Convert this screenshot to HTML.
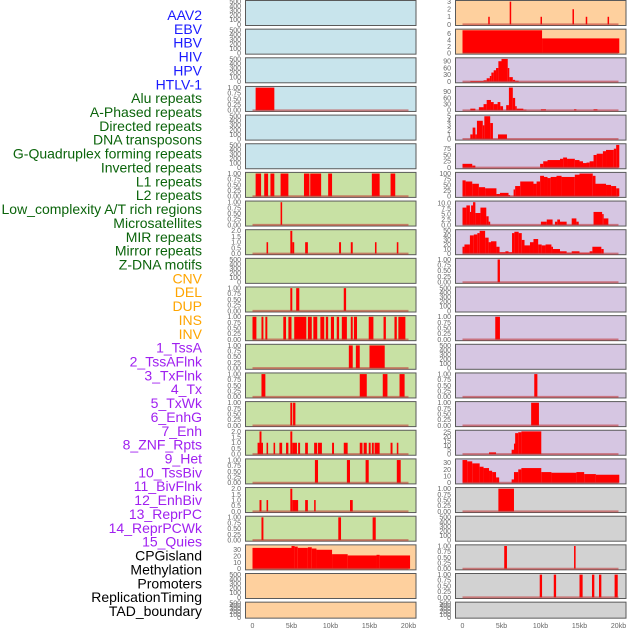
<!DOCTYPE html>
<html><head><meta charset="utf-8"><style>
html,body{margin:0;padding:0;background:#fff;}
svg{display:block;font-family:"Liberation Sans",sans-serif;}
</style></head><body>
<svg id="chart" width="630" height="630" viewBox="0 0 630 630"></svg>
<script>
const featureLabels = ["AAV2","EBV","HBV","HIV","HPV","HTLV-1","Alu repeats","A-Phased repeats","Directed repeats","DNA transposons","G-Quadruplex forming repeats","Inverted repeats","L1 repeats","L2 repeats","Low_complexity A/T rich regions","Microsatellites","MIR repeats","Mirror repeats","Z-DNA motifs","CNV","DEL","DUP","INS","INV","1_TssA","2_TssAFlnk","3_TxFlnk","4_Tx","5_TxWk","6_EnhG","7_Enh","8_ZNF_Rpts","9_Het","10_TssBiv","11_BivFlnk","12_EnhBiv","13_ReprPC","14_ReprPCWk","15_Quies","CPGisland","Methylation","Promoters","ReplicationTiming","TAD_boundary"];
const labelGroups = ["virus","virus","virus","virus","virus","virus","repeat","repeat","repeat","repeat","repeat","repeat","repeat","repeat","repeat","repeat","repeat","repeat","repeat","sv","sv","sv","sv","sv","chrom","chrom","chrom","chrom","chrom","chrom","chrom","chrom","chrom","chrom","chrom","chrom","chrom","chrom","chrom","other","other","other","other","other"];
const groupColors = {virus:"#1a1aff",repeat:"#0b640b",sv:"#ffa500",chrom:"#a020f0",other:"#000000"};
const xTicks = [0,5,10,15,20];
const xTickLabels = ["0","5kb","10kb","15kb","20kb"];

const leftBg = ["b","b","b","b","b","b","g","g","g","g","g","g","g","g","g","g","g","g","g","o","o","o"];
const rightBg = ["o","o","p","p","p","p","p","p","p","p","p","p","p","p","p","p","p","y","y","y","y","y"];

const E = [0,100,200,300,400,500];
const U = [0,0.25,0.5,0.75,1];
const T2 = [0,0.5,1,1.5,2];
const leftTicks = [E,E,E,U,E,E,U,U,T2,E,U,U,U,U,U,T2,U,T2,U,[0,10,20,30],E,E];
const rightTicks = [[0,1,2,3],[0,2,4,6],[0,30,60,90],[0,30,60,90],[0,1,2,3,4,5],[0,25,50,75],[0,25,50,75,100],[0,2.5,5,7.5,10],[0,10,20,30,40,50],U,E,U,E,U,U,[0,5,10,15,20,25],[0,10,20,30],U,E,U,U,E];

// segments: [startKb, endKb, value]
const leftSeries = [
 [],[],[],
 [[0.4,2.8,1]],
 [],[],
 [[0.4,1.1,1],[1.5,2.0,1],[2.3,2.8,1],[3.6,4.6,1],[6.6,7.3,1],[7.4,8.8,1],[9.7,10.2,1],[15.3,16.3,1],[17.7,18.3,1]],
 [[3.6,3.8,1]],
 [[1.8,2.0,1],[4.85,5.1,2],[5.1,5.35,1],[6.75,7.1,1],[11.1,11.35,1],[12.6,12.85,1],[15.7,15.9,1],[18.5,18.7,1]],
 [],
 [[4.85,5.1,1],[5.6,6.0,1],[11.7,12.0,1]],
 [[0,0.5,1],[1.15,1.4,1],[1.65,1.9,1],[3.95,4.3,1],[4.6,5.0,1],[5.35,6.9,1],[7.1,7.6,1],[7.8,8.3,1],[8.7,9.2,1],[9.4,9.7,1],[10.05,10.45,1],[10.8,11.1,1],[11.45,12.1,1],[12.6,12.85,1],[13.0,13.4,1],[14.9,15.5,1],[16.8,17.1,1],[18.2,18.5,1],[18.7,19.6,1]],
 [[12.35,12.85,1],[13.25,13.75,1],[15.0,16.95,1]],
 [[1.15,1.65,1],[13.75,14.65,1],[16.7,17.3,1],[18.85,19.5,1]],
 [[4.85,5.1,1],[5.2,5.5,1]],
 [[0.65,0.9,1],[0.9,1.15,2],[1.15,1.3,1],[1.8,2.0,1],[2.7,2.9,1],[3.45,3.8,1],[4.3,4.6,1],[4.85,5.1,2],[5.1,5.7,1],[5.85,6.1,1],[6.75,7.1,1],[7.9,8.3,1],[8.4,8.9,1],[10.2,10.45,1],[11.7,12.2,1],[13.75,14.1,1],[14.25,14.65,1],[14.9,15.15,1],[15.3,15.55,1],[15.65,16.3,1],[17.7,17.95,1],[18.5,18.7,1]],
 [[8.0,8.4,1],[12.1,12.5,1],[14.5,14.9,1],[18.5,19.0,1]],
 [[0.9,1.15,1],[1.8,2.0,1],[4.85,5.1,2],[5.1,5.85,1],[6.75,7.1,1],[7.9,8.1,1],[12.5,12.85,1]],
 [[1.15,1.4,1],[11.0,11.35,1],[15.4,15.8,1]],
 [[0,5.0,33],[5.0,5.4,36],[5.4,5.8,35],[5.8,7.1,33],[7.1,7.6,34],[7.6,8.2,32],[8.2,10.2,30],[10.2,12.2,23],[12.2,15.9,21],[15.9,16.3,22],[16.3,20.2,21]],
 [],[]
];
const rightSeries = [
 [[3.3,3.45,1],[6.05,6.2,3],[10.0,10.15,1],[14.1,14.25,2],[15.8,15.95,1],[18.6,18.75,1]],
 [[0,10.2,7],[10.2,20.1,4.5]],
 [[1.0,2.7,3],[2.7,3.1,6],[3.1,3.5,15],[3.5,3.7,25],[3.7,4.0,40],[4.0,4.3,50],[4.3,4.6,60],[4.6,5.0,90],[5.0,5.8,100],[5.8,6.0,60],[6.0,6.45,20],[6.45,6.75,8],[6.75,7.2,4]],
 [[1.0,1.65,8],[2.1,2.7,15],[2.7,3.1,30],[3.1,3.65,50],[3.65,4.0,40],[4.0,4.5,30],[4.5,4.85,40],[4.85,5.2,20],[5.6,5.95,25],[5.95,6.45,110],[6.45,6.75,60],[6.75,6.95,20],[6.95,7.8,8],[7.8,8.2,3],[10.05,10.7,5],[14.3,14.6,5],[16.8,17.3,5]],
 [[1.0,1.3,1],[1.3,1.65,2.5],[1.65,1.85,1],[1.85,2.6,4],[2.6,2.8,3],[2.8,3.55,5],[3.55,3.9,3.5],[4.55,5.7,1]],
 [[0,1.25,15],[1.25,1.65,8],[9.95,10.35,15],[10.35,10.9,25],[10.9,12.5,30],[12.5,12.9,35],[12.9,13.4,40],[13.4,14.4,35],[14.4,15.0,30],[15.0,15.45,25],[15.45,15.9,18],[15.9,16.3,20],[16.3,16.8,25],[16.8,17.2,50],[17.2,18.0,55],[18.0,18.4,65],[18.4,19.4,70],[19.4,19.7,75],[19.7,20.1,90]],
 [[0,0.4,70],[0.4,1.25,65],[1.25,2.1,55],[2.1,2.9,40],[2.9,4.35,35],[4.35,4.8,10],[4.8,5.9,15],[5.9,6.1,5],[6.55,6.75,30],[6.75,7.4,45],[7.4,9.1,65],[9.1,9.5,55],[9.5,9.95,65],[9.95,10.45,90],[10.45,10.9,85],[10.9,11.3,80],[11.3,12.05,85],[12.05,12.7,90],[12.7,14.4,85],[14.4,15.0,95],[15.0,16.7,100],[16.7,17.05,90],[17.05,18.4,55],[18.4,19.05,50],[19.05,19.7,45],[19.7,20.1,35]],
 [[0,0.5,8],[0.5,0.95,9],[0.95,1.1,6],[1.1,1.35,9],[1.35,1.65,10.5],[1.65,2.3,5.5],[2.3,3.05,8],[3.05,3.35,4],[3.35,3.55,1.5],[10.05,10.8,1.5],[10.8,11.55,2.5],[11.85,12.15,1.5],[12.15,12.5,2.5],[12.5,13.35,1.5],[14.0,14.6,3],[14.6,14.9,1.5],[16.8,17.9,6],[17.9,18.1,5],[18.1,18.7,3]],
 [[0,0.25,15],[0.25,0.95,20],[0.95,1.45,40],[1.45,1.9,42],[1.9,2.2,45],[2.2,2.9,50],[2.9,3.35,35],[3.35,3.65,25],[3.65,4.35,27],[4.35,4.75,15],[4.75,5.5,3],[5.5,5.9,5],[5.9,6.35,3],[6.35,6.65,45],[6.65,7.2,48],[7.2,7.6,45],[7.6,7.95,30],[7.95,8.65,18],[8.65,9.1,25],[9.1,9.7,32],[9.7,10.15,20],[10.15,10.65,18],[10.65,11.4,20],[11.4,11.6,15],[11.6,12.5,10],[12.5,13.35,5],[13.35,14.0,2],[14.0,15.0,5],[15.0,16.3,2],[16.3,16.65,5],[16.65,17.8,15],[17.8,18.1,10]],
 [[4.5,4.8,1]],
 [],
 [[4.2,4.8,1]],
 [],
 [[9.2,9.6,1]],
 [[8.8,9.8,1]],
 [[3.4,4.3,2],[6.3,6.6,5],[6.6,6.75,12],[6.75,7.15,24],[7.15,7.55,25],[7.55,10.1,26]],
 [[0,0.6,34],[0.6,1.25,32],[1.25,2.2,29],[2.2,2.7,24],[2.7,3.4,22],[3.4,3.8,18],[3.8,4.3,16],[4.3,4.7,8],[6.3,6.6,5],[6.6,7.15,16],[7.15,7.55,20],[7.55,10.1,22],[10.1,11.4,16],[11.4,14.6,15],[14.6,15.6,16],[15.6,17.1,13],[17.1,20.1,12]],
 [[4.6,6.6,1]],
 [],
 [[5.35,5.7,1],[14.3,14.5,1]],
 [[9.9,10.2,1],[11.7,12.0,1],[15.0,15.4,1],[16.6,16.9,1],[17.5,17.8,1],[19.5,19.9,1]],
 []
];

const bgColors = {b:"#c8e4ec",g:"#c8e1a4",o:"#fed09e",p:"#d6c6e2",y:"#d2d2d2"};
const NS = "http://www.w3.org/2000/svg";
const svg = document.getElementById("chart");
function mk(tag, attrs, parent){
  const e = document.createElementNS(NS, tag);
  for (const k in attrs) e.setAttribute(k, attrs[k]);
  (parent||svg).appendChild(e);
  return e;
}
function fmt(v, ticks){
  const mx = ticks[ticks.length-1];
  if (mx === 1) return v.toFixed(2);
  if (ticks.some(t => t % 1 !== 0)) return v.toFixed(1);
  return String(v);
}

// labels
featureLabels.forEach((lab, i) => {
  const t = mk("text", {x:202, y:(20 + 13.86*i).toFixed(1), "text-anchor":"end", "font-size":"14", fill:groupColors[labelGroups[i]]});
  
  
  t.textContent = lab;
});

function drawColumn(col, bgs, ticksArr, series, px0, tickX, name){
  const xs = kb => px0 + 7 + kb * 7.8;
  const g = mk("g", {});
  
  
  bgs.forEach((bg, r) => {
    const top = 0.5 + 28.65 * r;
    const h = r === 21 ? 16 : 25;
    const ticks = ticksArr[r];
    const segs = series[r];
    const empty = segs.length === 0;
    let maxV = empty ? 500 : Math.max(...segs.map(s => s[2]));
    const lo = empty ? -25 : -0.05 * maxV, hi = empty ? 525 : 1.05 * maxV;
    const ys = v => top + h - (v - lo) / (hi - lo) * h;
    const p = mk("rect", {x:px0, y:top, width:170.5, height:h, fill:bgColors[bg], stroke:"#5a5a5a", "stroke-width":1}, g);
    
    
    segs.forEach(s => {
      const x1 = xs(s[0]), x2 = xs(s[1]);
      const b = mk("rect", {x:x1.toFixed(2), y:ys(s[2]).toFixed(2), width:Math.max(1.5, x2 - x1).toFixed(2), height:(ys(0) - ys(s[2])).toFixed(2), fill:"#ff0000"}, g);
      
      
    });
    if (!empty) {
      const bl = mk("line", {x1:xs(0), x2:xs(20), y1:ys(0), y2:ys(0), stroke:"#c03030", "stroke-width":2, "stroke-opacity":0.55}, g);
      
      
    }
    ticks.forEach(v => {
      const t = mk("text", {x:tickX, y:(ys(v) + 2.4).toFixed(1), "text-anchor":"end", "font-size":"7", fill:"#666"}, g);
      
      
      t.textContent = fmt(v, ticks);
    });
  });
  xTicks.forEach((v, i) => {
    const t = mk("text", {x:xs(v), y:628, "text-anchor":"middle", "font-size":"7", fill:"#666"}, g);
    
    
    t.textContent = xTickLabels[i];
  });
}
drawColumn(0, leftBg, leftTicks, leftSeries, 245.5, 241, "left-track-column");
drawColumn(1, rightBg, rightTicks, rightSeries, 455.5, 451, "right-track-column");
</script>
</body></html>
